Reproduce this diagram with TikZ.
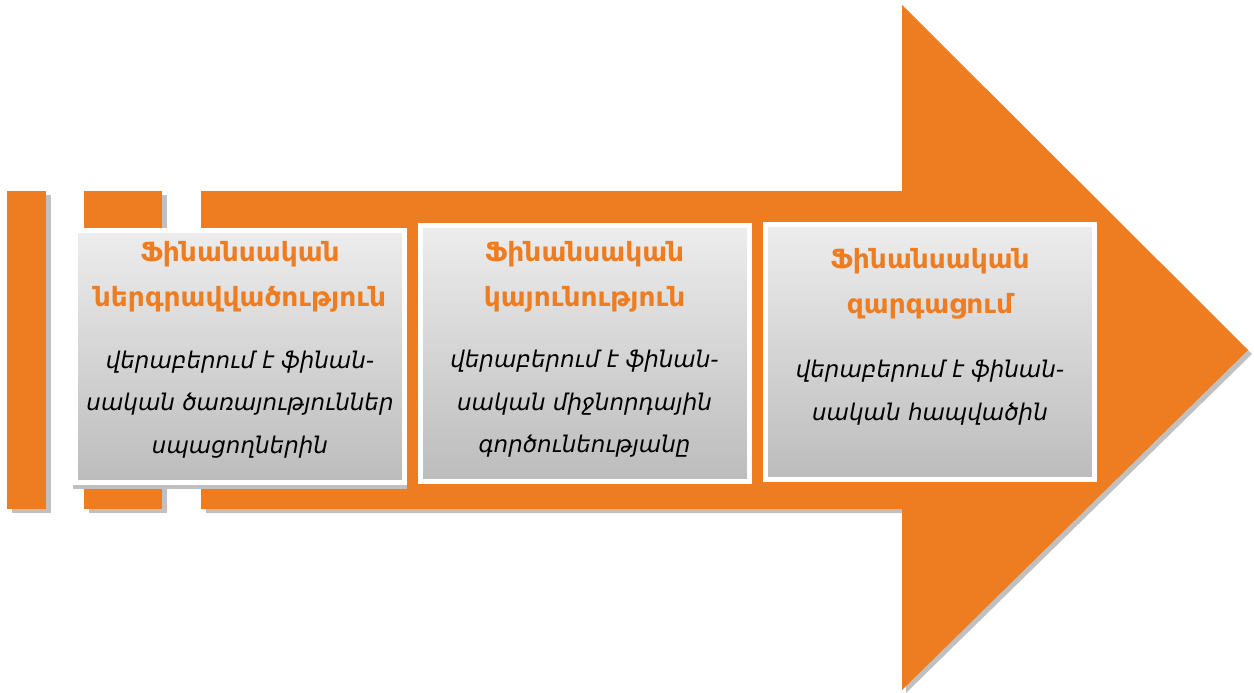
\documentclass[tikz,border=0pt]{standalone}
\usepackage{fontspec}
\setmainfont{DejaVu Sans}
\definecolor{aorange}{RGB}{238,125,34}
\definecolor{shgray}{RGB}{192,192,192}
\definecolor{gtop}{RGB}{237,237,237}
\definecolor{gbot}{RGB}{188,188,188}
\begin{document}
\begin{tikzpicture}[x=1pt,y=-1pt,
  orangefill/.style={fill=aorange},
  shadowfill/.style={fill=shgray},
  panel/.style={draw=white,line width=5pt,top color=gtop,bottom color=gbot,inner sep=0pt,outer sep=0pt,anchor=center},
  heading/.style={text=aorange,font=\fontsize{26.5}{45}\selectfont\bfseries,align=center,inner sep=0pt},
  bodytext/.style={text=black,font=\fontsize{23}{42.5}\selectfont\itshape,align=center,inner sep=0pt}]
\useasboundingbox (0,0) rectangle (1254,693);
% shadows
\fill[shadowfill] (12,195) rectangle (51,513);
\fill[shadowfill] (89,195) rectangle (167,513);
\fill[shadowfill] (206,195) -- (906,195) -- (906,9) -- (1252,354) -- (906,693) -- (906,513) -- (206,513) -- cycle;
% bars and arrow
\fill[orangefill] (7,191) rectangle (46,509);
\fill[orangefill] (84,191) rectangle (162,509);
\fill[orangefill] (201,191) -- (902,191) -- (902,5) -- (1248,350) -- (902,690) -- (902,509) -- (201,509) -- cycle;
% box shadow
\fill[shadowfill] (73,485) rectangle (407,489);
% panels
\node[panel,minimum width=328.5pt,minimum height=252pt] (p1) at (240,356.5) {};
\node[panel,minimum width=329pt,minimum height=256pt] (p2) at (584.5,353) {};
\node[panel,minimum width=329pt,minimum height=255pt] (p3) at (930,352) {};
% texts
\node[heading] (h1) at (240,276.5) {Ֆինանսական\\ներգրավվածություն};
\node[bodytext] (b1) at (240,404.5) {վերաբերում է ֆինան-\\սական ծառայություններ\\սպացողներին};
\node[heading] (h2) at (584.5,276.5) {Ֆինանսական\\կայունություն};
\node[bodytext] (b2) at (584.5,404) {վերաբերում է ֆինան-\\սական միջնորդային\\գործունեությանը};
\node[heading] (h3) at (930,283.5) {Ֆինանսական\\զարգացում};
\node[bodytext] (b3) at (930,392.5) {վերաբերում է ֆինան-\\սական հապվածին};
\end{tikzpicture}
\end{document}
